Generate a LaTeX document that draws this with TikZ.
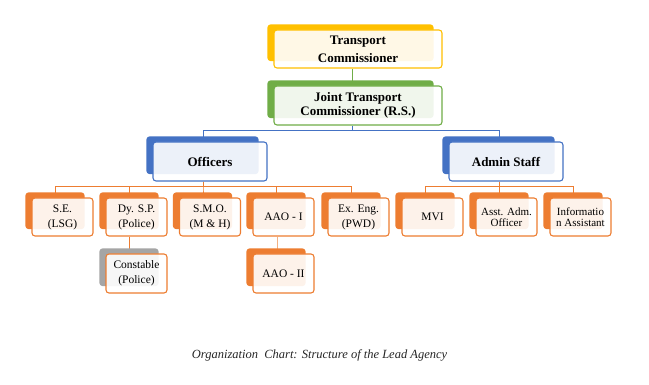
\documentclass[tikz,border=0pt]{standalone}
\usepackage{fontspec}
\setmainfont{Liberation Serif}
\definecolor{cyel}{HTML}{FFC000}
\definecolor{cgrn}{HTML}{70AD47}
\definecolor{cblu}{HTML}{4472C4}
\definecolor{corg}{HTML}{ED7D31}
\definecolor{cgry}{HTML}{A5A5A5}
\definecolor{corgl}{HTML}{F4B183}
\pgfdeclarelayer{paper}
\pgfdeclarelayer{conn}
\pgfdeclarelayer{backrect}
\pgfsetlayers{paper,conn,backrect,main}
\newcommand\backrect[2]{%
  \begin{pgfonlayer}{backrect}
  \fill[#2, rounded corners=3pt] ([shift={(-6,-5)}]#1.north west) rectangle ([shift={(-9,-7.5)}]#1.south east);
  \end{pgfonlayer}}
\tikzset{
  front/.style={draw=#1, line width=1.1pt, rounded corners=3pt, fill=white, fill opacity=0.9, text opacity=1, align=center, inner sep=0pt},
  big/.style={minimum width=168pt, minimum height=38pt},
  mid/.style={minimum width=114pt, minimum height=39pt},
  small/.style={minimum width=61pt, minimum height=38pt},
  bfont/.style={font=\fontsize{13}{18}\selectfont\bfseries},
  jfont/.style={font=\fontsize{13}{13.5}\selectfont\bfseries},
  sfont/.style={font=\fontsize{11.5}{15}\selectfont},
  tfont/.style={font=\fontsize{11}{11}\selectfont},
  conn/.style={line width=0.9pt, draw=#1},
}
\begin{document}
\begin{tikzpicture}[x=1pt, y=-1pt]
\begin{pgfonlayer}{paper}
\fill[white] (0,0) rectangle (649,385);
\end{pgfonlayer}
\useasboundingbox (0,0) rectangle (649,385);
% level 1
\node[front=cyel, big, bfont] (tc) at (358,49) {Transport\\Commissioner};
\backrect{tc}{cyel}
\node[front=cgrn, big, jfont, minimum height=39pt] (jtc) at (358,105.5) {Joint Transport\\Commissioner (R.S.)};
\backrect{jtc}{cgrn}
% level 2
\node[front=cblu, mid, bfont] (off) at (210,161.5) {Officers};
\backrect{off}{cblu}
\node[front=cblu, mid, bfont] (adm) at (506,161.5) {Admin Staff};
\backrect{adm}{cblu}
% level 3
\node[front=corg, small, sfont] (se) at (62.5,217) {S.E.\\(LSG)};
\node[front=corg, small, sfont] (dysp) at (136.5,217) {Dy. S.P.\\(Police)};
\node[front=corg, small, sfont] (smo) at (210,217) {S.M.O.\\(M \& H)};
\node[front=corg, small, sfont] (aao1) at (283.5,217) {AAO - I};
\node[front=corg, small, sfont] (exeng) at (358.5,217) {Ex. Eng.\\(PWD)};
\node[front=corg, small, sfont] (mvi) at (432.5,217) {MVI};
\node[front=corg, small, tfont] (asst) at (506.5,217) {Asst. Adm.\\Officer};
\node[front=corg, small, tfont] (info) at (580.5,217) {Informatio\\n Assistant};
\foreach \n in {se,dysp,smo,aao1,exeng,mvi,asst,info} {\backrect{\n}{corg}}
% level 4
\node[front=corg, small, sfont, minimum height=39pt] (const) at (136.5,273.5) {Constable\\(Police)};
\backrect{const}{cgry}
\node[front=corg, small, sfont, minimum height=39pt] (aao2) at (283.5,273.5) {AAO - II};
\backrect{aao2}{corg}
% connectors
\begin{pgfonlayer}{conn}
\draw[conn=cgrn] ([xshift=-6pt]tc.south) -- ([xshift=-6pt]jtc.north);
\draw[conn=cblu] ([xshift=-6pt]jtc.south) -- ++(0,5) -| ([xshift=-7pt]off.north);
\draw[conn=cblu] ([xshift=-6pt]jtc.south) -- ++(0,5) -| ([xshift=-7pt]adm.north);
\foreach \n in {se,dysp,smo,aao1,exeng} {
  \draw[conn=corg] ([xshift=-7pt]off.south) -- ++(0,5) -| ([xshift=-7pt]\n.north);}
\foreach \n in {mvi,asst,info} {
  \draw[conn=corg] ([xshift=-7pt]adm.south) -- ++(0,5) -| ([xshift=-7pt]\n.north);}
\draw[conn=corg] ([xshift=-7pt]dysp.south) -- ([xshift=-7pt]const.north);
\draw[conn=corgl] ([xshift=-6pt]aao1.south) -- ([xshift=-6pt]aao2.north);
\end{pgfonlayer}
% caption
\node[font=\fontsize{12.5}{14}\selectfont\itshape, text=black!85] (cap) at (319.5,355) {Organization\ \ Chart: Structure of the Lead Agency};
\end{tikzpicture}
\end{document}
